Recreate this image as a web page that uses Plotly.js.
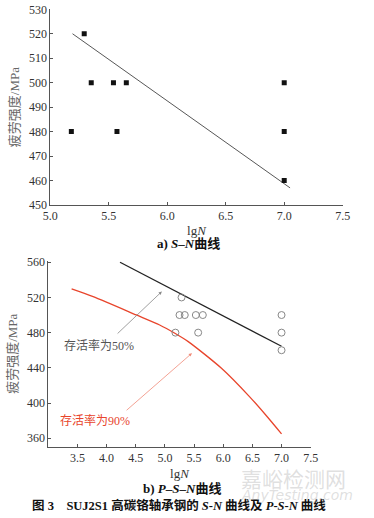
<!DOCTYPE html>
<html>
<head>
<meta charset="utf-8">
<script src="https://cdn.plot.ly/plotly-3.0.1.min.js"></script>
<style>html,body{margin:0;padding:0;background:#fff;}#chart{width:374px;height:518px;}</style>
</head>
<body>
<div id="chart"></div>
<script>
// ---- data ----
var snX = [5.18, 5.29, 5.35, 5.54, 5.57, 5.65, 7.0, 7.0, 7.0];
var snY = [480, 520, 500, 500, 480, 500, 500, 480, 460];
var snFitX = [5.19, 7.05];
var snFitY = [520, 457];

var psnX = [5.18, 5.285, 5.25, 5.34, 5.53, 5.65, 5.57, 7.0, 7.0, 7.0];
var psnY = [480, 520, 500, 500, 500, 500, 480, 500, 480, 460];
var p50X = [4.23, 7.0];
var p50Y = [560, 464.5];
var p90X = [3.40, 3.77, 4.51, 4.91, 5.17, 5.40, 5.97, 6.45, 6.74, 7.0];
var p90Y = [529.7, 520.9, 500.1, 488.7, 479.3, 469.8, 439.5, 407.3, 385.5, 364.9];

var topXTicks = [5.0, 5.5, 6.0, 6.5, 7.0, 7.5];
var topYTicks = [450, 460, 470, 480, 490, 500, 510, 520, 530];
var botXTicks = [3.5, 4.0, 4.5, 5.0, 5.5, 6.0, 6.5, 7.0, 7.5];
var botYTicks = [360, 400, 440, 480, 520, 560];

var yTitle = '疲劳强度/MPa';
var xTitle = 'lg<i>N</i>';
var capA = '<b>a) <i>S</i>–<i>N</i>曲线</b>';
var capB = '<b>b) <i>P</i>–<i>S</i>–<i>N</i>曲线</b>';
var capFig = '<b>图 3    SUJ2S1 高碳铬轴承钢的 <i>S</i>-<i>N</i> 曲线及 <i>P</i>-<i>S</i>-<i>N</i> 曲线</b>';
var label50 = '存活率为50%';
var label90 = '存活率为90%';
var wmark1 = '嘉峪检测网';
var wmark2 = '<i>AnyTesting.com</i>';

var FONT = "'Liberation Serif', 'Noto Sans CJK SC', serif";
var AX = '#555';

var traces = [
  {x: snFitX, y: snFitY, xaxis: 'x', yaxis: 'y', mode: 'lines',
   line: {color: '#444', width: 0.9}, hoverinfo: 'skip'},
  {x: snX, y: snY, xaxis: 'x', yaxis: 'y', mode: 'markers',
   marker: {symbol: 'square', size: 5, color: '#111'}, hoverinfo: 'skip'},
  {x: p50X, y: p50Y, xaxis: 'x2', yaxis: 'y2', mode: 'lines',
   line: {color: '#222', width: 1.3}, hoverinfo: 'skip'},
  {x: p90X, y: p90Y, xaxis: 'x2', yaxis: 'y2', mode: 'lines',
   line: {color: '#e8452c', width: 1.3, shape: 'spline', smoothing: 0.7}, hoverinfo: 'skip'},
  {x: psnX, y: psnY, xaxis: 'x2', yaxis: 'y2', mode: 'markers',
   marker: {symbol: 'circle-open', size: 7, color: '#888', line: {width: 1, color: '#888'}}, hoverinfo: 'skip'}
];

function axis(extra) {
  var base = {
    showgrid: false, zeroline: false, showline: true, linecolor: AX, linewidth: 1,
    ticks: 'inside', ticklen: 3, tickcolor: AX, tickwidth: 1, automargin: false,
    tickfont: {family: FONT, size: 12, color: '#333'}, mirror: false, fixedrange: true
  };
  for (var k in extra) base[k] = extra[k];
  return base;
}

function pan(px, py, text, size, color, family, xa) {
  return {xref: 'paper', yref: 'paper', x: px/374, y: 1 - py/518, text: text, showarrow: false,
    xanchor: xa || 'center', yanchor: 'middle',
    font: {family: family || FONT, size: size, color: color}};
}

var layout = {
  width: 374, height: 518,
  margin: {l: 0, r: 0, t: 0, b: 0, autoexpand: false},
  paper_bgcolor: '#fff', plot_bgcolor: '#fff',
  showlegend: false,
  font: {family: FONT, size: 12, color: '#333'},
  xaxis: axis({domain: [50.3/374, 342.7/374], range: [5.0, 7.5], anchor: 'y',
    tickvals: topXTicks, ticktext: topXTicks.map(function(v){return v.toFixed(1);}),
    title: {text: xTitle, font: {family: FONT, size: 13, color: '#333'}, standoff: 3}}),
  yaxis: axis({domain: [1 - 205/518, 1 - 9.3/518], range: [450, 530], anchor: 'x',
    tickvals: topYTicks,
    title: {text: yTitle, font: {family: FONT, size: 13, color: '#666'}, standoff: 6}}),
  xaxis2: axis({domain: [48.3/374, 310.7/374], range: [3.0, 7.5], anchor: 'y2',
    tickvals: botXTicks, ticktext: botXTicks.map(function(v){return v.toFixed(1);}),
    title: {text: xTitle, font: {family: FONT, size: 13, color: '#333'}, standoff: 4}}),
  yaxis2: axis({domain: [1 - 447/518, 1 - 260.5/518], range: [350, 562], anchor: 'x2',
    tickvals: botYTicks,
    title: {text: yTitle, font: {family: FONT, size: 13, color: '#666'}, standoff: 6}}),
  annotations: [
    pan(188, 243, capA, 13, '#111'),
    pan(182, 488.5, capB, 13, '#111'),
    pan(178.5, 505.5, capFig, 12.5, '#111'),
    // watermark
    pan(293, 478, wmark1, 21, 'rgba(185,185,185,0.45)', "'Noto Sans CJK SC', sans-serif"),
    pan(297, 495, wmark2, 14, 'rgba(185,185,185,0.45)', "'DejaVu Sans', sans-serif"),
    // survival labels
    pan(99, 345, label50, 12, '#555'),
    pan(95, 420, label90, 12, '#e8452c'),
    // arrows
    {xref: 'x2', yref: 'y2', x: 4.947, y: 526.7, axref: 'x2', ayref: 'y2', ax: 4.163, ay: 477.4,
     text: '', showarrow: true, arrowhead: 2, arrowsize: 0.8, arrowwidth: 0.8, arrowcolor: '#888',
     startstandoff: 0, standoff: 0},
    {xref: 'x2', yref: 'y2', x: 5.463, y: 456.6, axref: 'x2', ayref: 'y2', ax: 4.317, ay: 390.3,
     text: '', showarrow: true, arrowhead: 2, arrowsize: 0.8, arrowwidth: 0.8, arrowcolor: '#f08a78',
     startstandoff: 0, standoff: 0}
  ]
};

Plotly.newPlot('chart', traces, layout, {displayModeBar: false, staticPlot: true});
</script>
</body>
</html>
